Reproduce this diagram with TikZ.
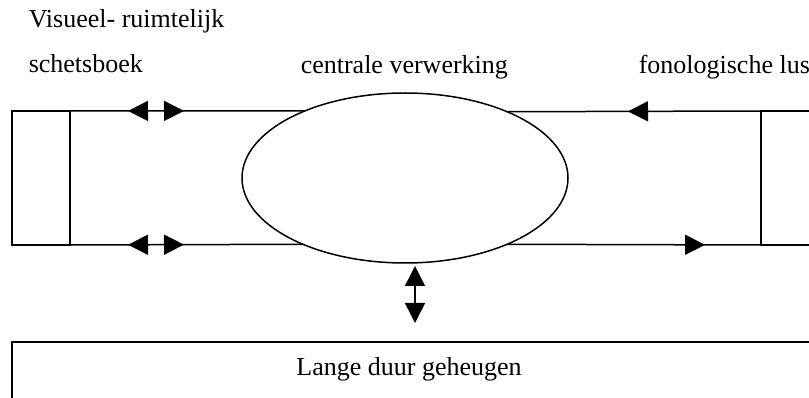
\documentclass[tikz,border=0pt]{standalone}
\usepackage{fontspec}
\setmainfont{Liberation Serif}
\usetikzlibrary{shapes.geometric,arrows.meta,decorations.markings}

\tikzset{
  >={Triangle[length=20pt,width=20pt]},
  lbl/.style={font=\fontsize{26}{30}\selectfont, inner sep=0pt},
  store/.style={draw, inner sep=0pt, outer sep=0pt},
  twoway/.style={postaction=decorate, decoration={markings,
      mark=at position 58pt with {\arrowreversed{>}},
      mark=at position 114pt with {\arrow{>}}}},
  oneway/.style={postaction=decorate, decoration={markings,
      mark=at position #1 with {\arrow{>}}}},
}

\begin{document}
\begin{tikzpicture}[x=1pt, y=-1pt, line width=1.5pt]
    \useasboundingbox (0,0) rectangle (809,398);
    \clip (0,0) rectangle (809,398);

    % Visueel-ruimtelijk schetsboek
    \node[store, minimum width=58pt, minimum height=134pt] (vrs) at (41,178) {};
    \node[lbl, anchor=base west] (vrsline1) at (28,28) {Visueel- ruimtelijk};
    \node[lbl, anchor=base west] (vrsline2) at (28,73) {schetsboek};

    % Centrale verwerking
    \node[draw, ellipse, minimum width=326pt, minimum height=170pt,
          inner sep=0pt, outer sep=0pt] (cv) at (405,178) {};
    \node[lbl, anchor=base west] (cvlabel) at (300,74) {centrale verwerking};

    % Fonologische lus
    \node[store, minimum width=69pt, minimum height=134pt] (fl) at (795.5,178) {};
    \node[lbl, anchor=base west] (fllabel) at (638,74) {fonologische lus};

    % Lange duur geheugen
    \node[store, minimum width=818pt, minimum height=80pt] (ltm) at (421,382) {};
    \node[lbl, anchor=base] (ltmlabel) at (409,375) {Lange duur geheugen};

    % Arrows
    \draw[twoway] (vrs.north east) -- (cv.146.18);
    \draw[twoway] (vrs.south east) -- (cv.213.82);
    \draw[oneway=133pt] (fl.north west) -- (cv.33.82);
    \draw[oneway=198pt] (cv.-33.82) -- (fl.south west);
    \coordinate (down) at ([xshift=10pt]cv.south);
    \draw[<->, shorten <=3pt, shorten >=19pt] (down) -- (down |- ltm.north);
\end{tikzpicture}
\end{document}
